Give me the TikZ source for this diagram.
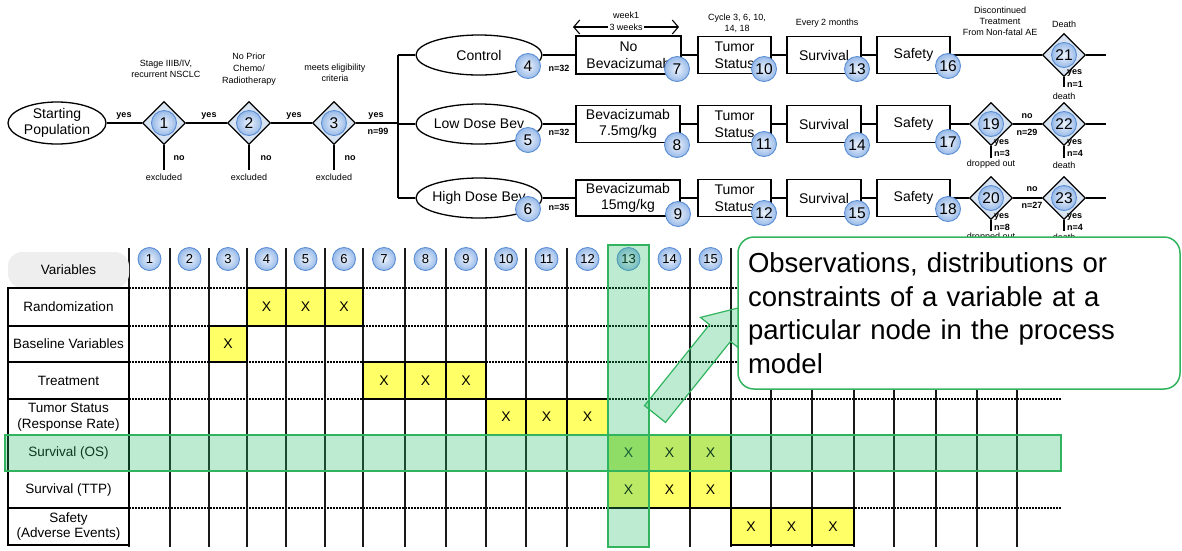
\documentclass[tikz,border=0pt]{standalone}
\usepackage{fontspec}
\setmainfont{Liberation Sans}
\usetikzlibrary{shapes.geometric,arrows.meta}

\definecolor{numedge}{HTML}{5B8ED4}
\definecolor{numin}{HTML}{EDF3FC}
\definecolor{numout}{HTML}{98BAE8}
\definecolor{diafill}{HTML}{D9E4F2}
\definecolor{cellyellow}{HTML}{FFFF66}
\definecolor{hlfill}{RGB}{38,188,105}
\definecolor{hledge}{RGB}{50,180,95}
\definecolor{pillgray}{HTML}{EEEEEE}

\tikzset{
  ln/.style={line width=1.3pt},
  ell/.style={ellipse, draw, line width=1.3pt, fill=white, inner sep=0pt},
  etext/.style={inner sep=0pt, align=center, font=\fontsize{14}{16}\selectfont},
  box/.style={rectangle, draw, line width=1.3pt, fill=white, inner sep=0pt, align=center, font=\fontsize{14}{16.5}\selectfont},
  dia/.style={diamond, draw, line width=1.3pt, fill=diafill, minimum width=43pt, minimum height=43pt, inner sep=0pt},
  num/.style={circle, draw=numedge, line width=0.9pt, inner color=numin, outer color=numout, minimum size=25pt, inner sep=0pt, font=\fontsize{15.5}{15.5}\selectfont},
  tnum/.style={num, minimum size=23pt, font=\fontsize{13}{13}\selectfont},
  lbl/.style={inner sep=0pt, align=center, font=\fontsize{9}{11}\selectfont},
  lblb/.style={inner sep=0pt, align=center, font=\fontsize{9}{10}\selectfont\bfseries},
  dotline/.style={line width=1.1pt, black, dash pattern=on 1.8pt off 1.2pt},
  colline/.style={line width=1.3pt, black!90},
  pill/.style={fill=pillgray, rounded corners=14pt, minimum width=121pt, minimum height=36pt, inner sep=0pt, font=\fontsize{13.5}{15}\selectfont},
  rowhead/.style={rectangle, draw, line width=1.3pt, fill=white, minimum width=121pt, inner sep=0pt, align=center, font=\fontsize{13.5}{15.5}\selectfont},
  cell/.style={fill=cellyellow, draw, line width=1.3pt},
  xmark/.style={inner sep=0pt, font=\fontsize{14}{14}\selectfont},
  hl/.style={fill=hlfill, fill opacity=0.3, draw=hledge, line width=1.2pt},
  notebox/.style={rectangle, draw=hledge, line width=1.5pt, fill=white, rounded corners=16pt,
    minimum width=442pt, minimum height=152pt, text width=422pt, inner xsep=10pt, align=left,
    font=\fontsize{27.5}{33.5}\selectfont},
  wkarrow/.style={line width=1.1pt, {Straight Barb[length=6pt,width=14pt]}-{Straight Barb[length=6pt,width=14pt]}}
}

% one marked cell of the variable/node table
\newcommand\xcell[5]{%
  \path[cell] (#2,#4) rectangle (#3,#5);
  \node[xmark] (#1) at ({(#2+#3)/2},{(#4+#5)/2}) {X};}

\begin{document}
\begin{tikzpicture}[x=1pt,y=-1pt]
\useasboundingbox (0,0) rectangle (1182,550);

% ================= variable / node table =================
\foreach \y in {288,326,362,399,435,471,508}
  \draw[dotline] (129,\y) -- (1061,\y);
\foreach \x in {129,170,209,247,286,325,363,405,446,486,526,567,608,649,690,731,771,812,854,894,936,977,1017}
  \draw[colline] (\x,248) -- (\x,547);

\node[pill] (var) at (68.5,270) {Variables};
\node[rowhead, minimum height=38pt] (rRand) at (68.5,307)   {Randomization};
\node[rowhead, minimum height=36pt] (rBase) at (68.5,344)   {Baseline Variables};
\node[rowhead, minimum height=37pt] (rTrt)  at (68.5,380.5) {Treatment};
\node[rowhead, minimum height=36pt] (rTum)  at (68.5,417)   {Tumor Status\\(Response Rate)};
\node[rowhead, minimum height=36pt] (rOS)   at (68.5,453)   {Survival (OS)};
\node[rowhead, minimum height=37pt] (rTTP)  at (68.5,489.5) {Survival (TTP)};
\node[rowhead, minimum height=37pt] (rSaf)  at (68.5,526.5) {Safety\\(Adverse Events)};

% marked cells
\xcell{x4a}{247}{286}{288}{326}\xcell{x5a}{286}{325}{288}{326}\xcell{x6a}{325}{363}{288}{326}
\xcell{x3b}{209}{247}{326}{362}
\xcell{x7c}{363}{405}{362}{399}\xcell{x8c}{405}{446}{362}{399}\xcell{x9c}{446}{486}{362}{399}
\xcell{x10d}{486}{526}{399}{435}\xcell{x11d}{526}{567}{399}{435}\xcell{x12d}{567}{608}{399}{435}
\xcell{x13e}{608}{649}{435}{471}\xcell{x14e}{649}{690}{435}{471}\xcell{x15e}{690}{731}{435}{471}
\xcell{x13f}{608}{649}{471}{508}\xcell{x14f}{649}{690}{471}{508}\xcell{x15f}{690}{731}{471}{508}
\xcell{x16g}{731}{771}{508}{545}\xcell{x17g}{771}{812}{508}{545}\xcell{x18g}{812}{854}{508}{545}

% node numbers heading the columns
\foreach \i/\x in {1/149.5,2/189.5,3/228,4/266.5,5/305.5,6/344,7/384,8/425.5,9/466,10/506,11/546.5,12/587.5,13/628.5,14/669.5,15/710.5}
  \node[tnum] (t\i) at (\x,259) {\i};

% highlighted column and row
\draw[hl] (608,245) rectangle (649,547);
\draw[hl] (5,435) rectangle (1061,471);

% block arrow towards the note
\draw[hl] (644.5,405.6) -- (709.5,324.6) -- (700.5,317.4) -- (742,307) -- (739.5,348.6) -- (730.5,341.4) -- (665.5,422.4) -- cycle;

% ================= process model =================
% screening
\node[ell, minimum width=98pt, minimum height=42pt] (sp) at (57,123) {};
\node[etext] (spt) at (sp) {Starting\\Population};

\foreach \i/\x/\o in {1/164/15,2/249/17,3/334/16} {
  \node[dia] (d\i) at (\x,123) {};
  \coordinate (x\i) at (\x,170);
  \draw[ln] (d\i.south) -- (x\i);
  \node[lblb] (no\i) at (\x+\o,158) {no};
  \node[lbl] (ex\i) at (\x,177) {excluded};
}
\coordinate (bus) at (398,123);
\coordinate (bt) at (398,55);
\coordinate (bm) at (398,124);
\coordinate (bb) at (398,198);

\draw[ln] (sp) -- (d1);
\draw[ln] (d1) -- (d2);
\draw[ln] (d2) -- (d3);
\draw[ln] (d3) -- (bus);
\draw[ln] (bt) -- (bb);

\node[lblb] (y1) at (124,116) {yes};
\node[lblb] (y2) at (209,116) {yes};
\node[lblb] (y3) at (294,116) {yes};
\node[lblb] (y4) at (376,116) {yes};
\node[lblb] (n99) at (378,131) {n=99};

\node[lbl] (q1) at (166,68.5) {Stage IIIB/IV,\\recurrent NSCLC};
\node[lbl, font=\fontsize{9}{12}\selectfont] (q2) at (249,69) {No Prior\\Chemo/\\Radiotherapy};
\node[lbl] (q3) at (335,72.5) {meets eligibility\\criteria};

% arm headings
\node[lbl] (wk1) at (626,15) {week1};
\coordinate (wL) at (573,27);
\coordinate (wR) at (679,27);
\draw[wkarrow] (wL) -- (wR) node[midway, fill=white, lbl, inner sep=1.2pt] (wk3) {3 weeks};
\node[lbl] (cyc) at (737,23.5) {Cycle 3, 6, 10,\\14, 18};
\node[lbl] (ev2) at (827,23) {Every 2 months};
\node[lbl] (disc) at (1000,21) {Discontinued\\Treatment\\From Non-fatal AE};
\node[lbl] (dth) at (1064,24) {Death};

% arm 1: control
\node[ell, minimum width=126pt, minimum height=40pt] (e4) at (479,55) {};
\node[etext] (e4t) at (e4) {Control};
\node[box, minimum width=105pt, minimum height=38pt] (b7) at (628.5,55) {No\\Bevacizumab};
\node[box, minimum width=73pt, minimum height=37pt] (b10) at (734.5,55) {Tumor\\Status};
\node[box, minimum width=74pt, minimum height=37pt] (b13) at (824,55) {Survival};
\node[box, minimum width=73pt, minimum height=37pt] (b16) at (913.5,55) {Safety};
\node[dia] (d21) at (1064,55) {};
\coordinate (end1) at (1106,55);
\coordinate (v21) at (1064,87);
\draw[ln] (bt) -- (e4);
\draw[ln] (e4) -- (b7);
\draw[ln] (b7) -- (b10);
\draw[ln] (b10) -- (b13);
\draw[ln] (b13) -- (b16);
\draw[ln] (b16) -- (d21);
\draw[ln] (d21) -- (end1);
\draw[ln] (d21.south) -- (v21);
\node[lblb] (n32a) at (559,68) {n=32};
\node[lblb, anchor=west] (y21) at (1067,73) {yes};
\node[lblb, anchor=west] (k21) at (1067,84) {n=1};
\node[lbl] (dt21) at (1064,96) {death};

% arm 2: low dose
\node[ell, minimum width=126pt, minimum height=40pt] (e5) at (479,124) {};
\node[etext] (e5t) at (e5) {Low Dose Bev};
\node[box, minimum width=104pt, minimum height=37pt] (b8) at (628,124) {Bevacizumab\\7.5mg/kg};
\node[box, minimum width=73pt, minimum height=37pt] (b11) at (734.5,124) {Tumor\\Status};
\node[box, minimum width=74pt, minimum height=37pt] (b14) at (824,124) {Survival};
\node[box, minimum width=73pt, minimum height=37pt] (b17) at (913.5,124) {Safety};
\node[dia] (d19) at (991,124) {};
\node[dia] (d22) at (1064,124) {};
\coordinate (end2) at (1106,124);
\coordinate (v19) at (991,158);
\coordinate (v22) at (1064,158);
\draw[ln] (bm) -- (e5);
\draw[ln] (e5) -- (b8);
\draw[ln] (b8) -- (b11);
\draw[ln] (b11) -- (b14);
\draw[ln] (b14) -- (b17);
\draw[ln] (b17) -- (d19);
\draw[ln] (d19) -- (d22);
\draw[ln] (d22) -- (end2);
\draw[ln] (d19.south) -- (v19);
\draw[ln] (d22.south) -- (v22);
\node[lblb] (n32b) at (559,132) {n=32};
\node[lblb] (no19) at (1027,116) {no};
\node[lblb] (n29) at (1027,132) {n=29};
\node[lblb, anchor=west] (y19) at (994,143) {yes};
\node[lblb, anchor=west] (k19) at (994,153) {n=3};
\node[lbl] (do19) at (991,164) {dropped out};
\node[lblb, anchor=west] (y22) at (1067,143) {yes};
\node[lblb, anchor=west] (k22) at (1067,153) {n=4};
\node[lbl] (dt22) at (1064,165) {death};

% arm 3: high dose
\node[ell, minimum width=126pt, minimum height=40pt] (e6) at (479,198) {};
\node[etext] (e6t) at (e6) {High Dose Bev};
\node[box, minimum width=104pt, minimum height=36pt] (b9) at (628,198) {Bevacizumab\\15mg/kg};
\node[box, minimum width=73pt, minimum height=37pt] (b12) at (734.5,198) {Tumor\\Status};
\node[box, minimum width=74pt, minimum height=37pt] (b15) at (824,198) {Survival};
\node[box, minimum width=73pt, minimum height=37pt] (b18) at (913.5,198) {Safety};
\node[dia] (d20) at (991,198) {};
\node[dia] (d23) at (1064,198) {};
\coordinate (end3) at (1106,198);
\coordinate (v20) at (991,231);
\coordinate (v23) at (1064,231);
\draw[ln] (bb) -- (e6);
\draw[ln] (e6) -- (b9);
\draw[ln] (b9) -- (b12);
\draw[ln] (b12) -- (b15);
\draw[ln] (b15) -- (b18);
\draw[ln] (b18) -- (d20);
\draw[ln] (d20) -- (d23);
\draw[ln] (d23) -- (end3);
\draw[ln] (d20.south) -- (v20);
\draw[ln] (d23.south) -- (v23);
\node[lblb] (n35) at (559,207) {n=35};
\node[lblb] (no20) at (1032,189) {no};
\node[lblb] (n27) at (1032,205) {n=27};
\node[lblb, anchor=west] (y20) at (994,217) {yes};
\node[lblb, anchor=west] (k20) at (994,227) {n=8};
\node[lbl] (do20) at (991,237) {dropped out};
\node[lblb, anchor=west] (y23) at (1067,217) {yes};
\node[lblb, anchor=west] (k23) at (1067,227) {n=4};
\node[lbl] (dt23) at (1064,237) {death};

% numbered process nodes
\foreach \i in {1,2,3} \node[num] (p\i) at (d\i) {\i};
\foreach \i in {19,20,21,22,23} \node[num] (p\i) at (d\i) {\i};
\foreach \i/\x/\y in {4/528/66,5/528/140,6/528/209,
                      7/677/69,8/677/145,9/678/214,
                      10/764/69,11/764/144,12/764/213,
                      13/857/69,14/857/145,15/857/213,
                      16/948/66,17/948/142,18/948/209}
  \node[num] (p\i) at (\x,\y) {\i};

% explanatory note
\node[notebox] (obs) at (959,313) {Observations, distributions or\\constraints of a variable at a\\particular node in the process\\model};

\end{tikzpicture}
\end{document}
